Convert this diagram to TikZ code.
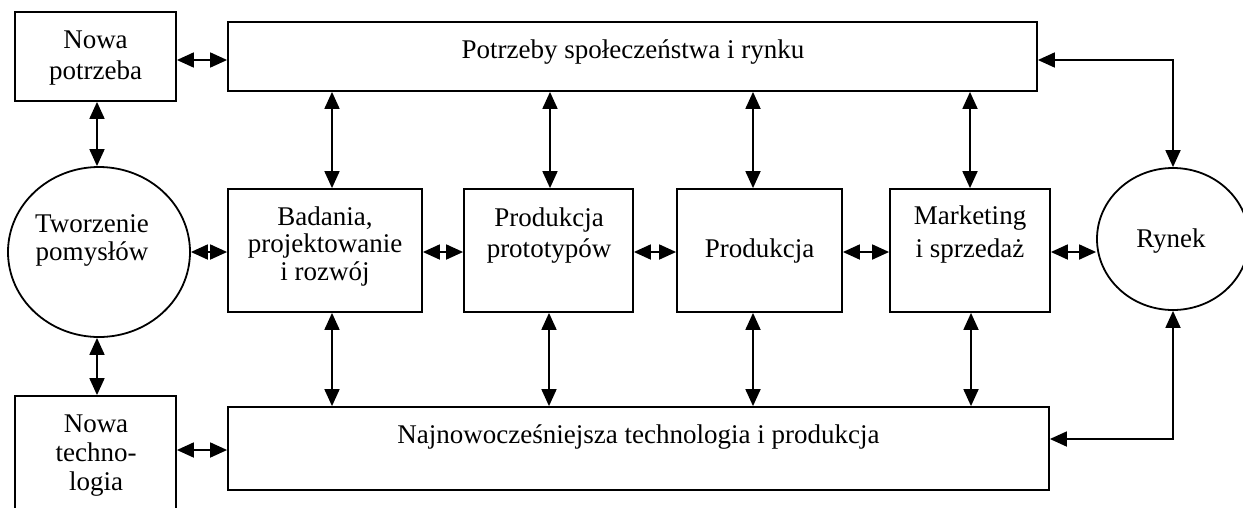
\documentclass[tikz,border=0pt]{standalone}
\usepackage{fontspec}
\setmainfont{Liberation Serif}
\usetikzlibrary{arrows.meta,shapes.geometric,calc}
\tikzset{
  box/.style={draw, line width=1.8pt, rectangle, inner sep=0pt},
  oval/.style={draw, line width=1.8pt, ellipse, inner sep=0pt},
  txt/.style={align=center, inner sep=0pt, anchor=base,
    font=\fontsize{27}{#1}\selectfont},
  txt/.default=28,
  biarr/.style={line width=1.8pt, {Triangle[length=17pt,width=15pt]}-{Triangle[length=17pt,width=15pt]}},
}
\begin{document}
\begin{tikzpicture}[x=1pt,y=-1pt]
\useasboundingbox (0,0) rectangle (1243,507);
\begin{scope}
\clip (0,0) rectangle (1243,507);
% blocks
\node[box, minimum width=161pt, minimum height=89pt] (np) at (95.5,56.5) {};
\node[box, minimum width=809pt, minimum height=69pt] (top) at (632.5,56.5) {};
\node[oval, minimum width=182pt, minimum height=170pt] (tw) at (99,252) {};
\node[box, minimum width=194pt, minimum height=123pt] (bad) at (325,250.5) {};
\node[box, minimum width=169pt, minimum height=123pt] (proto) at (548.5,250.5) {};
\node[box, minimum width=165pt, minimum height=123pt] (prod) at (759.5,250.5) {};
\node[box, minimum width=160pt, minimum height=123pt] (mark) at (970,250.5) {};
\node[oval, minimum width=152pt, minimum height=142pt] (ry) at (1173,239) {};
\node[box, minimum width=821pt, minimum height=83pt] (bot) at (638.5,448.5) {};
\node[box, minimum width=161pt, minimum height=134pt] (nt) at (95.5,463) {};
\end{scope}
% labels (placed by the baseline of their last line)
\node[txt=31] (np-t) at (95.5,79) {Nowa\\potrzeba};
\node[txt] (top-t) at (633,58) {Potrzeby społeczeństwa i rynku};
\node[txt] (tw-t) at (92,260) {Tworzenie\\pomysłów};
\node[txt=27.5] (bad-t) at (325,280) {Badania,\\projektowanie\\i rozwój};
\node[txt=31] (proto-t) at (549,257) {Produkcja\\prototypów};
\node[txt] (prod-t) at (759.5,257) {Produkcja};
\node[txt=33] (mark-t) at (970,257) {Marketing\\i sprzedaż};
\node[txt] (ry-t) at (1171,247) {Rynek};
\node[txt] (bot-t) at (638.5,443) {Najnowocześniejsza technologia i produkcja};
\node[txt=29] (nt-t) at (96,490) {Nowa\\techno-\\logia};
% connectors on the left
\draw[biarr] (np.east |- 0,60) -- (top.west |- 0,60);
\draw[biarr] (np.south -| 97,0) -- (tw.north -| 97,0);
\draw[biarr] (tw.east) -- (bad.west |- tw.east);
\draw[biarr] (tw.south -| 97,0) -- (nt.north -| 97,0);
\draw[biarr] (nt.east |- 0,450) -- (bot.west |- 0,450);
% verticals to the top and bottom bars
\draw[biarr] (top.south -| 332,0) -- (bad.north -| 332,0);
\draw[biarr] (top.south -| 550,0) -- (proto.north -| 550,0);
\draw[biarr] (top.south -| 753,0) -- (prod.north -| 753,0);
\draw[biarr] (top.south -| 970,0) -- (mark.north -| 970,0);
\draw[biarr] (bad.south -| 332,0) -- (bot.north -| 332,0);
\draw[biarr] (proto.south -| 549,0) -- (bot.north -| 549,0);
\draw[biarr] (prod.south -| 753,0) -- (bot.north -| 753,0);
\draw[biarr] (mark.south -| 971,0) -- (bot.north -| 971,0);
% chain across the middle
\draw[biarr] (bad.east |- 0,252) -- (proto.west |- 0,252);
\draw[biarr] (proto.east |- 0,252) -- (prod.west |- 0,252);
\draw[biarr] (prod.east |- 0,252) -- (mark.west |- 0,252);
\draw[biarr] (mark.east |- 0,252) -- (ry.west |- 0,252);
% market loops
\draw[biarr] (top.east |- 0,60) -- (ry.north |- 0,60) -- (ry.north);
\draw[biarr] (bot.east |- 0,439) -- (ry.south |- 0,439) -- (ry.south);
\end{tikzpicture}
\end{document}
